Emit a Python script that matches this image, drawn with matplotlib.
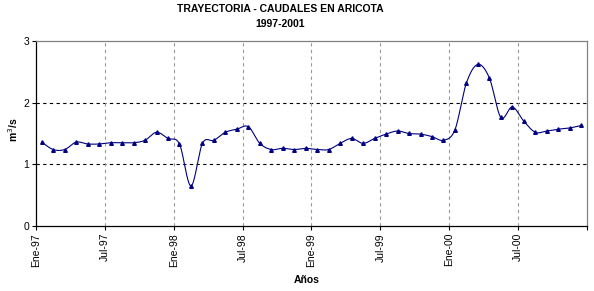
import numpy as np
import matplotlib.pyplot as plt

plt.rcParams['font.family'] = ['Liberation Sans', 'DejaVu Sans']

# caudales mensuales (m3/s), Ene-97 .. Dic-00
caudal = [1.36, 1.24, 1.24, 1.36, 1.33, 1.33, 1.35, 1.35, 1.35, 1.39, 1.52, 1.42,
          1.33, 0.65, 1.34, 1.39, 1.52, 1.57, 1.61, 1.34, 1.24, 1.26, 1.24, 1.26,
          1.24, 1.24, 1.34, 1.42, 1.34, 1.42, 1.49, 1.54, 1.50, 1.49, 1.45, 1.39,
          1.56, 2.32, 2.62, 2.40, 1.76, 1.93, 1.70, 1.52, 1.54, 1.57, 1.59, 1.63]
meses = np.arange(len(caudal)) + 0.5          # mitad de cada mes
tick_pos = np.arange(0, 49, 6)
tick_lab = ['Ene-97', 'Jul-97', 'Ene-98', 'Jul-98', 'Ene-99', 'Jul-99',
            'Ene-00', 'Jul-00', '']

azul = '#000080'


def suavizar(x, y, n=20):
    # curva bezier tipo excel (catmull-rom) entre los puntos
    x = np.asarray(x, float)
    y = np.asarray(y, float)
    px = np.concatenate([[x[0]], x, [x[-1]]])
    py = np.concatenate([[y[0]], y, [y[-1]]])
    xs, ys = [], []
    t = np.linspace(0, 1, n)
    for i in range(1, len(px) - 2):
        p0x, p1x, p2x, p3x = px[i - 1], px[i], px[i + 1], px[i + 2]
        p0y, p1y, p2y, p3y = py[i - 1], py[i], py[i + 1], py[i + 2]
        c1x, c1y = p1x + (p2x - p0x) / 6, p1y + (p2y - p0y) / 6
        c2x, c2y = p2x - (p3x - p1x) / 6, p2y - (p3y - p1y) / 6
        bx = (1 - t)**3 * p1x + 3 * (1 - t)**2 * t * c1x + 3 * (1 - t) * t**2 * c2x + t**3 * p2x
        by = (1 - t)**3 * p1y + 3 * (1 - t)**2 * t * c1y + 3 * (1 - t) * t**2 * c2y + t**3 * p2y
        xs.extend(bx)
        ys.extend(by)
    return xs, ys


fig = plt.figure(figsize=(5.94, 2.91), dpi=100)
ax = fig.add_axes([0.0606, 0.2234, 0.9275, 0.6357])

sx, sy = suavizar(meses, caudal)
ax.plot(sx, sy, color=azul, lw=0.8, zorder=3)
ax.plot(meses, caudal, ls='none', marker='^', ms=2.6, color=azul, zorder=4)

ax.set_xlim(0, 48)
ax.set_ylim(0, 3)
ax.set_yticks([0, 1, 2, 3])
ax.set_xticks(tick_pos)
ax.set_xticklabels(tick_lab, rotation=90, fontsize=7.5)
ax.tick_params(axis='y', labelsize=7.5, length=3, width=0.8, pad=2)
ax.tick_params(axis='x', length=3, width=0.8, pad=2)

for yv in [1, 2]:
    ax.axhline(yv, color='black', ls=(0, (3, 3)), lw=0.8, zorder=1)
for xv in tick_pos[1:-1]:
    ax.axvline(xv, color='#999999', ls=(0, (3, 3)), lw=0.8, zorder=1)

ax.spines['top'].set_color('#808080')
ax.spines['right'].set_color('#808080')
for s in ax.spines.values():
    s.set_linewidth(0.9)

fig.text(280 / 594, 1 - 9 / 291, 'TRAYECTORIA - CAUDALES EN ARICOTA', ha='center', va='center',
         fontsize=7.5, fontweight='bold')
fig.text(280 / 594, 1 - 24 / 291, '1997-2001', ha='center', va='center',
         fontsize=7.5, fontweight='bold')
fig.text(307 / 594, 1 - 280 / 291, 'Años', ha='center', va='center', fontsize=7.5, fontweight='bold')
fig.text(13 / 594, 1 - 130 / 291, 'm$^3$/s', ha='center', va='center', rotation=90,
         fontsize=7.5, fontweight='bold')

fig.savefig('out.png', dpi=100)
